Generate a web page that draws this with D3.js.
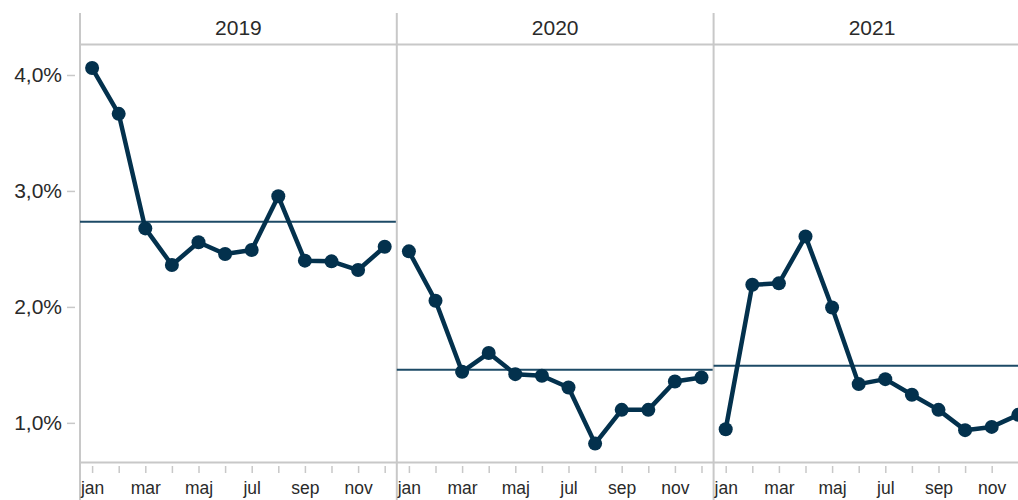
<!DOCTYPE html>
<html>
<head>
<meta charset="utf-8">
<script src="https://cdn.jsdelivr.net/npm/d3@7"></script>
<style>
  body { margin: 0; background: #fff; }
  svg { display: block; font-family: "Liberation Sans", Arial, sans-serif; }
</style>
</head>
<body>
<div id="chart"></div>
<script>
var years = ["2019", "2020", "2021"];
var months = ["jan", "feb", "mar", "apr", "maj", "jun", "jul", "aug", "sep", "okt", "nov", "dec"];
var values2019 = [4.06, 3.665, 2.677, 2.361, 2.557, 2.456, 2.491, 2.954, 2.399, 2.393, 2.318, 2.519];
var values2020 = [2.479, 2.053, 1.44, 1.602, 1.42, 1.406, 1.305, 0.821, 1.112, 1.112, 1.357, 1.391];
var values2021 = [0.945, 2.191, 2.203, 2.608, 1.995, 1.334, 1.377, 1.242, 1.112, 0.937, 0.965, 1.069];
var averages = [2.735, 1.457, 1.492];
var yTicks = [1, 2, 3, 4];
var yTickLabels = ["1,0%", "2,0%", "3,0%", "4,0%"];

var series = [values2019, values2020, values2021];

var W = 1018, H = 500;
var left = 80, panelW = 316.8;
var plotTop = 44.5, plotBottom = 462.5;
var gridColor = "#c8c8c8";
var lineColor = "#03314d";
var avgColor = "#1c4a66";
var textColor = "#2a2a2a";

var svg = d3.select("#chart").append("svg")
    .attr("width", W)
    .attr("height", H);

var y = d3.scaleLinear().domain([0.658, 4.263]).range([plotBottom, plotTop]);

var x = d3.scalePoint().domain(months).range([0, panelW]).padding(0.455);

// y axis
var yAxis = d3.axisLeft(y)
    .tickValues(yTicks)
    .tickFormat(function(d, i) { return yTickLabels[i]; })
    .tickSize(8)
    .tickPadding(5);
var ga = svg.append("g")
    .attr("transform", "translate(75,0)")
    .call(yAxis);
ga.select(".domain").remove();
ga.selectAll(".tick line").attr("stroke", gridColor).attr("stroke-width", 1.5);
ga.selectAll(".tick text")
    .attr("fill", textColor)
    .style("font-size", "21px")
    .style("font-family", "'Liberation Sans', Arial, sans-serif");

// header line and bottom axis line
svg.append("line")
    .attr("x1", left).attr("x2", W)
    .attr("y1", plotTop).attr("y2", plotTop)
    .attr("stroke", gridColor).attr("stroke-width", 2);
svg.append("line")
    .attr("x1", left).attr("x2", W)
    .attr("y1", plotBottom).attr("y2", plotBottom)
    .attr("stroke", gridColor).attr("stroke-width", 2);

var line = d3.line()
    .x(function(d, i) { return x(months[i]); })
    .y(function(d) { return y(d); });

years.forEach(function(yr, p) {
    var x0 = left + p * panelW;
    var g = svg.append("g").attr("transform", "translate(" + x0 + ",0)");

    // panel border
    g.append("line")
        .attr("x1", 0).attr("x2", 0)
        .attr("y1", 13).attr("y2", H)
        .attr("stroke", gridColor).attr("stroke-width", 2);

    // year title
    g.append("text")
        .attr("x", panelW / 2)
        .attr("y", 35)
        .attr("text-anchor", "middle")
        .attr("fill", textColor)
        .style("font-size", "21px")
        .text(yr);

    // x axis
    var xAxis = d3.axisBottom(x)
        .tickSize(7)
        .tickPadding(9)
        .tickFormat(function(d, i) { return i % 2 == 0 ? d : ""; });
    var gx = g.append("g")
        .attr("transform", "translate(0,466)")
        .call(xAxis);
    gx.select(".domain").remove();
    gx.selectAll(".tick line").attr("stroke", gridColor).attr("stroke-width", 1.5);
    gx.selectAll(".tick text")
        .attr("fill", textColor)
        .style("font-size", "17.5px")
        .style("font-family", "'Liberation Sans', Arial, sans-serif");

    // average line
    g.append("line")
        .attr("x1", 0).attr("x2", panelW)
        .attr("y1", y(averages[p])).attr("y2", y(averages[p]))
        .attr("stroke", avgColor).attr("stroke-width", 2);

    g.append("path")
        .attr("fill", "none")
        .attr("stroke", lineColor)
        .attr("stroke-width", 4.5)
        .attr("stroke-linejoin", "round")
        .attr("d", line(series[p]));

    g.selectAll("circle")
        .data(series[p])
        .enter().append("circle")
        .attr("cx", function(d, i) { return x(months[i]); })
        .attr("cy", function(d) { return y(d); })
        .attr("r", 7)
        .attr("fill", lineColor);
});
</script>
</body>
</html>
